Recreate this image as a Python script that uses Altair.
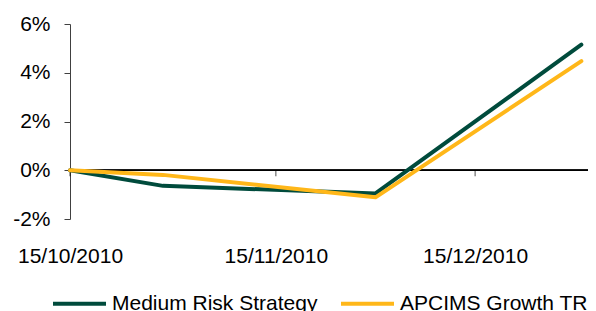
import altair as alt
import pandas as pd

dates = ["2010-10-15", "2010-10-29", "2010-11-30", "2010-12-31"]
medium_risk = [0.0, -0.64, -0.95, 5.15]
apcims = [0.0, -0.19, -1.11, 4.48]
series_names = ["Medium Risk Strategy", "APCIMS Growth TR"]
tick_dates = ["2010-10-15", "2010-11-15", "2010-12-15"]
y_ticks = [-2, 0, 2, 4, 6]

rows = []
for name, vals in zip(series_names, [medium_risk, apcims]):
    for d, v in zip(dates, vals):
        rows.append({"date": d, "value": v, "series": name})
df = pd.DataFrame(rows)
ticks_df = pd.DataFrame({"date": tick_dates, "value": [0] * len(tick_dates)})

FONT = "Liberation Sans"
FS = 21

def dt(s):
    y, m, d = map(int, s.split("-"))
    return alt.DateTime(year=y, month=m, date=d, utc=True)

xscale = alt.Scale(type="utc", domain=[dt("2010-10-15"), dt("2011-01-01")])
yscale = alt.Scale(domain=[-2, 6], nice=False, zero=False)

lines = alt.Chart(df).mark_line(strokeWidth=4, strokeCap="round", strokeJoin="round").encode(
    x=alt.X("date:T", scale=xscale,
            axis=alt.Axis(values=[dt(t) for t in tick_dates],
                          labelExpr="utcFormat(datum.value, '%d/%m/%Y')",
                          domain=False, ticks=False, grid=False, labelPadding=26,
                          labelFontSize=FS, labelFont=FONT, labelColor="#000000",
                          title=None, labelFlush=False, labelOverlap=False)),
    y=alt.Y("value:Q", scale=yscale,
            axis=alt.Axis(values=y_ticks, labelExpr="datum.value + '%'", grid=False,
                          domain=True, domainColor="#404040", tickColor="#404040",
                          tickSize=6, labelPadding=14, labelFontSize=FS, labelFont=FONT,
                          labelColor="#000000", title=None)),
    color=alt.Color("series:N", sort=series_names,
                    scale=alt.Scale(domain=series_names, range=["#004B3C", "#FFB719"]),
                    legend=alt.Legend(orient="none", legendX=-19, legendY=251, direction="horizontal",
                                      title=None, symbolType="stroke", symbolSize=2809,
                                      symbolStrokeWidth=4, labelFontSize=FS, labelFont=FONT,
                                      labelColor="#000000", labelOffset=4, columnPadding=15,
                                      padding=0, labelLimit=400)),
)

zero = alt.Chart(df).mark_rule(color="#000000", strokeWidth=1).encode(y=alt.datum(0))

tick_marks = alt.Chart(ticks_df).mark_tick(orient="vertical", size=6, thickness=1, yOffset=3,
                                          color="#000000").encode(
    x=alt.X("date:T", scale=xscale), y=alt.Y("value:Q", scale=yscale))

chart = alt.layer(zero, tick_marks, lines).properties(
    width=518, height=195,
    padding={"left": 62, "top": 16, "right": 0, "bottom": 95},
    autosize=alt.AutoSizeParams(type="none"),
).configure_view(stroke=None)

chart.save("out.html", embed_options={"renderer": "svg", "actions": False})
